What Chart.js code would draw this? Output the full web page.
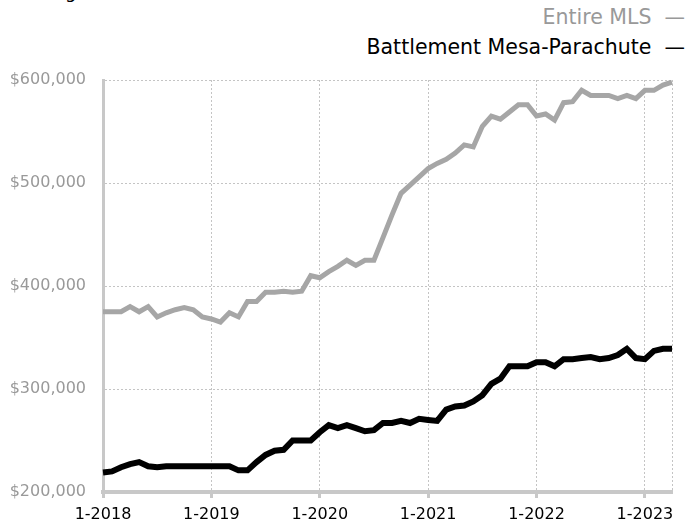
<!DOCTYPE html>
<html>
<head>
<meta charset="utf-8">
<script src="https://cdn.jsdelivr.net/npm/chart.js@4/dist/chart.umd.min.js"></script>
<style>
  body { margin: 0; background: #fff; }
  #wrap { position: relative; width: 689px; height: 525px; overflow: hidden; font-family: "DejaVu Sans", sans-serif; }
  #title { position: absolute; left: 16px; top: -19px; font-size: 18px; color: #000; white-space: nowrap; }
  .leg { position: absolute; right: 4px; font-size: 20.5px; white-space: nowrap; }
  #leg1 { top: 5px; color: #999; }
  #leg2 { top: 35px; color: #000; }
  canvas { position: absolute; left: 0; top: 0; }
</style>
</head>
<body>
<div id="wrap">
  <div id="title">Rolling 12-Month Calculation</div>
  <div class="leg" id="leg1">Entire MLS &nbsp;—</div>
  <div class="leg" id="leg2">Battlement Mesa-Parachute &nbsp;—</div>
  <canvas id="chart" width="689" height="525"></canvas>
</div>
<script>
const years = [2018, 2019, 2020, 2021, 2022, 2023];
const lastMonth = 4; // data runs through 4-2023

const entireMLS = [
  375000, 375000, 375000, 380000, 375000, 380000, 370000, 374000, 377000, 379000, 377000, 370000,
  368000, 365000, 374000, 370000, 385000, 385000, 394000, 394000, 395000, 394000, 395000, 410000,
  408000, 414000, 419000, 425000, 420000, 425000, 425000, 447000, 469000, 490000, 498000, 506000,
  514000, 519000, 523000, 529000, 537000, 535000, 555000, 565000, 562000, 569000, 576000, 576000,
  565000, 567000, 561000, 578000, 579000, 590000, 585000, 585000, 585000, 582000, 585000, 582000,
  590000, 590000, 595000, 598000
];

const battlementMesa = [
  219000, 220000, 224000, 227000, 229000, 225000, 224000, 225000, 225000, 225000, 225000, 225000,
  225000, 225000, 225000, 221000, 221000, 229000, 236000, 240000, 241000, 250000, 250000, 250000,
  258000, 265000, 262000, 265000, 262000, 259000, 260000, 267000, 267000, 269000, 267000, 271000,
  270000, 269000, 280000, 283000, 284000, 288000, 294000, 305000, 310000, 322000, 322000, 322000,
  326000, 326000, 322000, 329000, 329000, 330000, 331000, 329000, 330000, 333000, 339000, 330000,
  329000, 337000, 339000, 339000
];

const yTicks = [200000, 300000, 400000, 500000, 600000];

let labels = [];
years.forEach((y) => {
  for (let m = 1; m <= 12; m++) {
    if (y === years[years.length - 1] && m > lastMonth) break;
    labels.push(m + "-" + y);
  }
});

const gridGrey = "#c4c4c4";
const axisGrey = "#c8c8c8";

new Chart(document.getElementById("chart"), {
  type: "line",
  data: {
    labels: labels,
    datasets: [
      {
        label: "Entire MLS",
        data: entireMLS,
        borderColor: "#a6a6a6",
        borderWidth: 5,
        pointRadius: 0,
        tension: 0,
      },
      {
        label: "Battlement Mesa-Parachute",
        data: battlementMesa,
        borderColor: "#000",
        borderWidth: 6,
        pointRadius: 0,
        tension: 0,
      },
    ],
  },
  options: {
    responsive: false,
    animation: false,
    layout: { padding: { top: 80, right: 17, left: 0, bottom: 0 } },
    plugins: { legend: { display: false }, tooltip: { enabled: false } },
    scales: {
      x: {
        offset: false,
        afterFit: (scale) => { scale.height = 33; },
        border: { color: axisGrey, width: 4, dash: [2, 2] },
        grid: {
          color: (ctx) => (ctx.index % 12 === 0 || ctx.index === labels.length - 1) ? gridGrey : "transparent",
          lineWidth: 1,
          drawTicks: true,
          tickLength: 6,
          tickWidth: 3,
          tickColor: (ctx) => ctx.index % 12 === 0 ? axisGrey : "transparent",
        },
        ticks: {
          autoSkip: false,
          maxRotation: 0,
          padding: 7,
          color: "#000",
          font: { family: "DejaVu Sans", size: 16 },
          callback: (v, i) => i % 12 === 0 ? labels[i] : "",
        },
      },
      y: {
        min: yTicks[0],
        max: yTicks[yTicks.length - 1],
        afterFit: (scale) => { scale.width = 103; },
        afterBuildTicks: (scale) => { scale.ticks = yTicks.map((v) => ({ value: v })); },
        border: { color: axisGrey, width: 3, dash: [2, 2] },
        grid: { color: gridGrey, lineWidth: 1, drawTicks: false },
        ticks: {
          padding: 17,
          color: "#999",
          font: { family: "DejaVu Sans", size: 16 },
          callback: (v) => "$" + v.toLocaleString("en-US"),
        },
      },
    },
  },
});
</script>
</body>
</html>
